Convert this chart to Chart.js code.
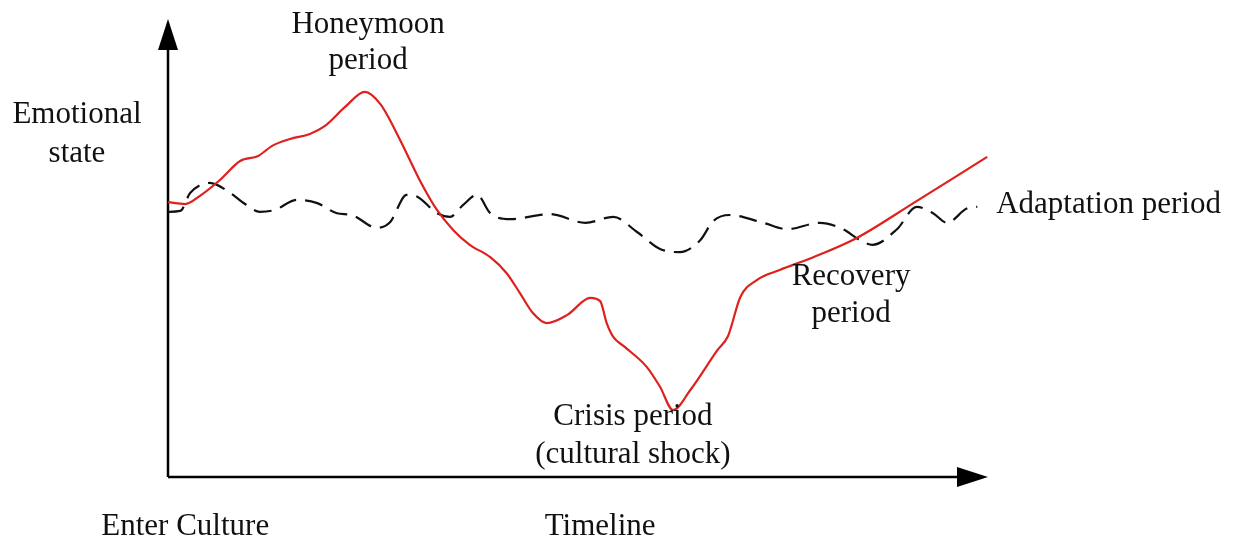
<!DOCTYPE html>
<html>
<head>
<meta charset="utf-8">
<script src="https://cdn.jsdelivr.net/npm/chart.js@4.4.1/dist/chart.umd.min.js"></script>
<style>
  html, body { margin: 0; padding: 0; background: #fff; }
  canvas { display: block; }
</style>
</head>
<body>
<canvas id="cultureChart" width="1239" height="548"></canvas>
<script>
// tiempo (0-100) y estado emocional (0-100)
const redTime = [0, 2.1, 3.9, 6.3, 8.8, 11.0, 12.7, 14.9, 17.3, 19.1, 21.6, 24.0, 25.9, 28.3, 30.7, 32.8, 34.8, 36.8, 39.3, 41.3, 42.9, 44.5, 46.2, 48.7, 51.5, 52.7, 53.5, 54.3, 55.7, 58.4, 60.0, 61.6, 63.7, 67.0, 68.3, 69.8, 71.8, 74.6, 78.7, 84.0, 90.9, 99.9];
const redEmotion = [60.0, 59.6, 61.4, 64.8, 69.0, 70.1, 72.3, 73.8, 74.9, 76.6, 80.8, 84.1, 81.4, 73.6, 64.8, 58.3, 53.9, 50.7, 48.0, 44.5, 40.2, 35.8, 33.6, 35.4, 39.1, 38.4, 33.6, 30.6, 28.4, 24.0, 19.7, 14.6, 19.0, 27.7, 30.8, 39.3, 43.0, 45.2, 48.0, 52.2, 59.8, 69.9];

const dashTime = [0, 1.5, 2.7, 5.1, 7.3, 9.4, 11.2, 13.0, 15.7, 18.2, 20.6, 22.4, 25.5, 27.1, 29.1, 30.5, 32.8, 34.4, 36.0, 37.7, 39.3, 41.7, 46.6, 50.9, 54.3, 57.2, 60.0, 62.4, 64.9, 66.5, 68.5, 72.6, 75.5, 79.5, 82.3, 84.4, 85.9, 88.9, 91.3, 93.3, 95.0, 97.4, 98.7];
const dashEmotion = [57.9, 58.1, 62.0, 64.2, 62.4, 59.6, 57.9, 58.3, 60.5, 59.8, 57.6, 57.2, 54.4, 55.7, 61.6, 61.1, 57.6, 56.8, 59.4, 61.6, 57.6, 56.3, 57.4, 55.5, 56.8, 53.5, 49.8, 49.1, 51.7, 55.9, 57.2, 55.5, 54.1, 55.5, 54.1, 51.7, 50.7, 54.1, 59.0, 57.6, 55.5, 58.6, 59.0];

// etiquetas: texto, tiempo, emocion, alineacion
const labelTexts = ["Honeymoon", "period", "Emotional", "state", "Adaptation period", "Recovery", "period", "Crisis period", "(cultural shock)", "Enter Culture", "Timeline"];
const labelTime = [24.4, 24.4, -11.1, -11.1, 101.0, 83.3, 83.3, 56.7, 56.7, 2.1, 52.7];
const labelEmotion = [96.9, 89.1, 77.3, 68.8, 57.6, 41.9, 33.8, 11.4, 3.1, -12.7, -12.7];
const labelAlign = ["center", "center", "center", "center", "left", "center", "center", "center", "center", "center", "center"];

const toPoints = (xs, ys) => xs.map((x, i) => ({ x: x, y: ys[i] }));

// Ejes con flechas
const axesPlugin = {
    id: "axesArrows",
    beforeDatasetsDraw(chart) {
        const { ctx, chartArea } = chart;
        const x0 = chartArea.left, y0 = chartArea.bottom;
        ctx.save();
        ctx.strokeStyle = "#000";
        ctx.fillStyle = "#000";
        ctx.lineWidth = 2.5;
        ctx.beginPath();
        ctx.moveTo(x0, y0);
        ctx.lineTo(x0, chartArea.top + 28);
        ctx.moveTo(x0, y0);
        ctx.lineTo(chartArea.right - 28, y0);
        ctx.stroke();
        // flecha vertical
        ctx.beginPath();
        ctx.moveTo(x0, chartArea.top);
        ctx.lineTo(x0 - 10, chartArea.top + 31);
        ctx.lineTo(x0 + 10, chartArea.top + 31);
        ctx.closePath();
        ctx.fill();
        // flecha horizontal
        ctx.beginPath();
        ctx.moveTo(chartArea.right, y0);
        ctx.lineTo(chartArea.right - 31, y0 - 10);
        ctx.lineTo(chartArea.right - 31, y0 + 10);
        ctx.closePath();
        ctx.fill();
        ctx.restore();
    }
};

const labelsPlugin = {
    id: "periodLabels",
    afterDraw(chart) {
        const { ctx, scales } = chart;
        ctx.save();
        ctx.fillStyle = "#111";
        ctx.font = '31px "Liberation Serif", "DejaVu Serif", serif';
        ctx.textBaseline = "alphabetic";
        labelTexts.forEach((text, i) => {
            ctx.textAlign = labelAlign[i];
            ctx.fillText(text, scales.x.getPixelForValue(labelTime[i]), scales.y.getPixelForValue(labelEmotion[i]));
        });
        ctx.restore();
    }
};

const ctx = document.getElementById("cultureChart").getContext("2d");
const chart = new Chart(ctx, {
    type: "scatter",
    data: {
        datasets: [{
            label: "Emotional state",
            data: toPoints(redTime, redEmotion),
            showLine: true,
            borderColor: "rgb(222, 32, 30)",
            borderWidth: 2.2,
            pointRadius: 0,
            cubicInterpolationMode: "monotone",
            clip: false
        }, {
            label: "Adaptation period",
            data: toPoints(dashTime, dashEmotion),
            showLine: true,
            borderColor: "#111",
            borderWidth: 2.2,
            borderDash: [18, 9],
            pointRadius: 0,
            cubicInterpolationMode: "monotone",
            clip: false
        }]
    },
    options: {
        responsive: false,
        animation: false,
        layout: { padding: { left: 168, right: 251, top: 19, bottom: 71 } },
        scales: {
            x: { type: "linear", display: false, min: 0, max: 100 },
            y: { type: "linear", display: false, min: 0, max: 100 }
        },
        plugins: {
            legend: { display: false },
            tooltip: { enabled: false }
        }
    },
    plugins: [axesPlugin, labelsPlugin]
});
</script>
</body>
</html>
